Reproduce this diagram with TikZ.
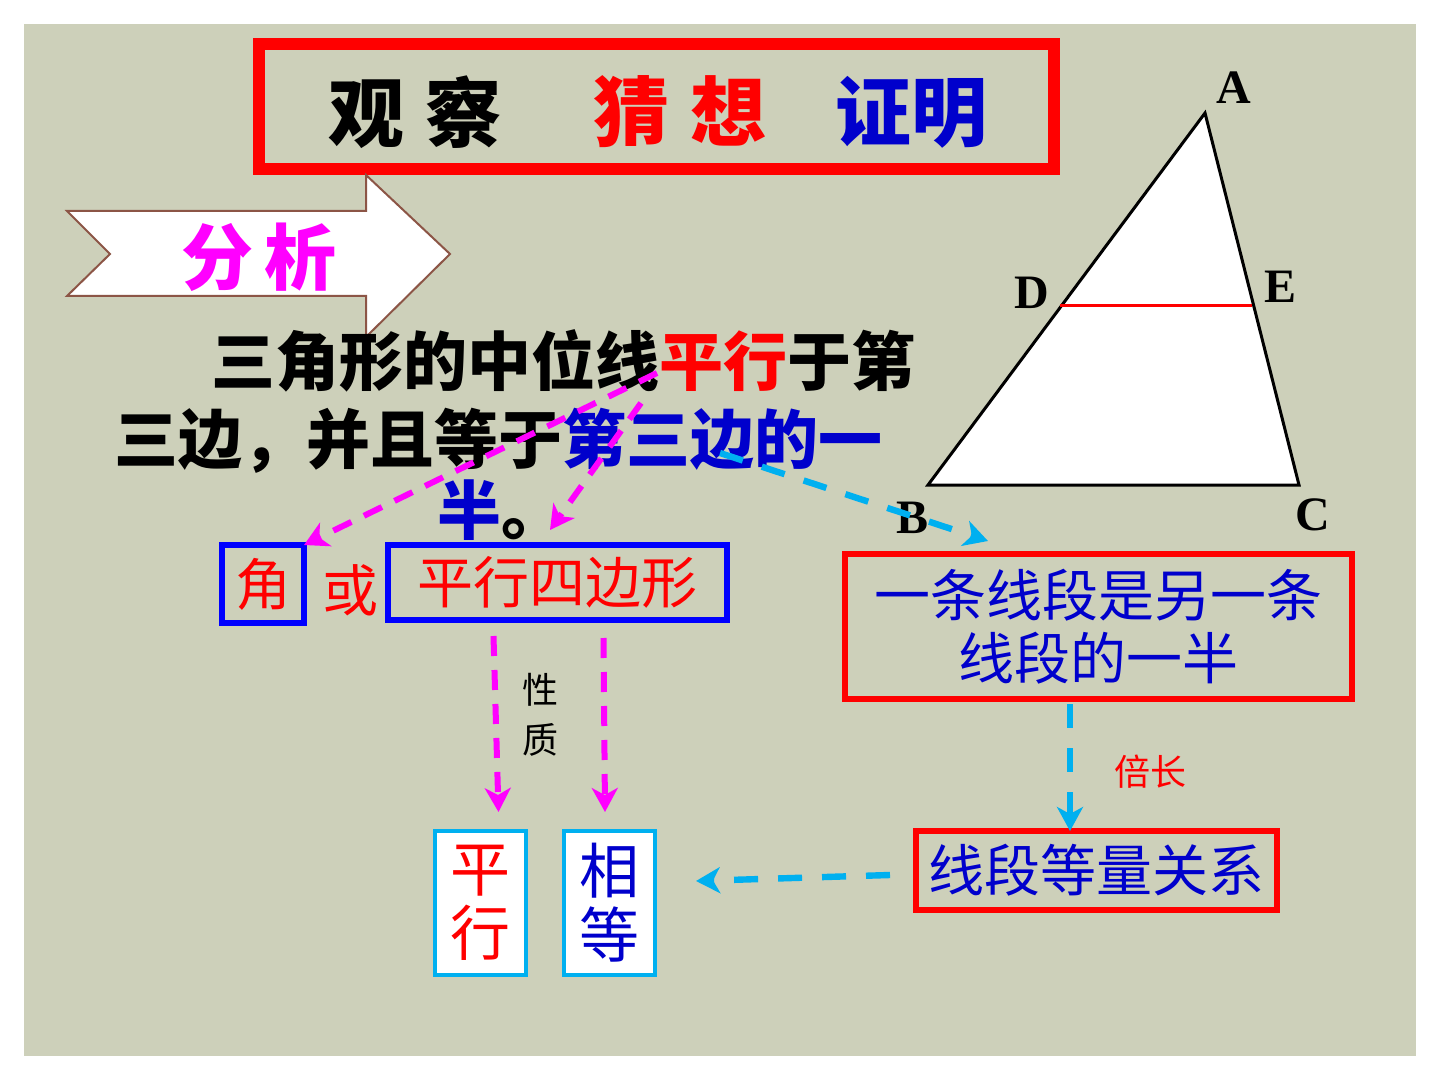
\documentclass[tikz,border=0pt]{standalone}
\usepackage{fontspec}
\setmainfont{Liberation Serif}
\newfontfamily\cjk{Noto Sans CJK SC}
\usetikzlibrary{arrows.meta,positioning,calc}
\definecolor{slidebg}{RGB}{205,208,186}
\definecolor{textblue}{RGB}{0,0,204}
\definecolor{lineblue}{RGB}{0,0,255}
\definecolor{skyblue}{RGB}{0,176,240}
\definecolor{pinkline}{RGB}{255,0,255}
\definecolor{arrowbrown}{RGB}{140,85,70}

\begin{document}
\begin{tikzpicture}[x=0.5pt,y=-0.5pt,inner sep=0pt,outer sep=0pt]
\tikzstyle{bluebox}=[draw=lineblue, line width=3pt, align=center, text=red, font=\cjk\fontsize{28pt}{32pt}\selectfont]
\tikzstyle{redbox}=[draw=red, line width=3pt, align=center, text=textblue, font=\cjk\fontsize{28pt}{31.5pt}\selectfont]
\tikzstyle{skybox}=[draw=skyblue, line width=2pt, fill=white, align=center, minimum width=45.5pt, minimum height=72pt, font=\cjk\fontsize{30pt}{32pt}\selectfont]
\tikzstyle{heavy}=[font=\cjk\bfseries\fontsize{32pt}{32pt}\selectfont, anchor=base west]
\tikzstyle{titleword}=[font=\cjk\bfseries\fontsize{38pt}{38pt}\selectfont]
\tikzstyle{magarrow}=[-{Stealth[length=12pt,width=13pt,inset=3.5pt]}, draw=pinkline, line width=3pt, dash pattern=on 10pt off 7pt]
\tikzstyle{skyarrow}=[-{Stealth[length=12pt,width=13pt,inset=3.5pt]}, draw=skyblue, line width=3.2pt, dash pattern=on 12pt off 10pt]
\tikzstyle{vertex}=[font=\bfseries\fontsize{24pt}{24pt}\selectfont]
% slide
\useasboundingbox (0,0) rectangle (1440,1080);
\fill[white] (0,0) rectangle (1440,1080);
\fill[slidebg] (24,24) rectangle (1416,1056);
% title
\node[draw=red, line width=6pt, minimum width=397.5pt, minimum height=62.5pt] (title) at (656.5,106.5) {};
\node[titleword] (observe) at (415,112) {观\hspace{11pt}察};
\node[titleword, text=red] (guess) at (680,112) {猜\hspace{11pt}想};
\node[titleword, text=textblue] (prove) at (911.5,112) {证明};
% analysis arrow
\draw[arrowbrown, line width=1pt, fill=white] (67,211) -- (366,211) -- (366,175) -- (450,254) -- (366,337) -- (366,296) -- (67,296) -- (110,254) -- cycle;
\node[font=\cjk\bfseries\fontsize{36pt}{36pt}\selectfont, text=pinkline] (analyse) at (259,257) {分\hspace{6pt}析};
% statement
\node[heavy] (l1a) at (211,386) {三角形的中位线};
\node[heavy, text=red, base right=0pt of l1a] (l1b) {平行};
\node[heavy, base right=0pt of l1b] (l1c) {于第};
\node[heavy] (l2a) at (114,464) {三边，并且等于};
\node[heavy, text=textblue, base right=0pt of l2a] (l2b) {第三边的一};
\node[heavy] (l3a) at (437,534) {\textcolor{textblue}{半}。};
% triangle
\coordinate (A) at (1205,113);
\coordinate (B) at (928,485);
\coordinate (C) at (1299,485);
\coordinate (D) at (1060,306);
\coordinate (E) at (1252,306);
\draw[line width=1.5pt, fill=white] (A) -- (B) -- (C) -- cycle;
\draw[red, line width=1.5pt] (D) -- (E);
\node[vertex] (la) at (1234,88) {A};
\node[vertex] (lb) at (912,518) {B};
\node[vertex] (lc) at (1313,515) {C};
\node[vertex] (ld) at (1032,293) {D};
\node[vertex] (le) at (1280,287) {E};
% boxes
\node[bluebox, minimum width=41pt, minimum height=39pt] (jiao) at (263,584) {角};
\node[font=\cjk\fontsize{28pt}{28pt}\selectfont, text=red] (huo) at (350,590) {或};
\node[bluebox, minimum width=169.5pt, minimum height=37.5pt] (pxbx) at (557.5,582.5) {平行四边形};
\node[font=\cjk\fontsize{18pt}{25pt}\selectfont, align=center] (prop) at (540,715) {性\\质};
\node[skybox, text=red] (pbox) at (480.5,903) {平\\行};
\node[skybox, text=textblue] (xbox) at (609.5,903) {相\\等};
\node[redbox, minimum width=253.5pt, minimum height=72.5pt] (half) at (1098.5,626.5) {一条线段是另一条\\线段的一半};
\node[font=\cjk\fontsize{18pt}{18pt}\selectfont, text=red] (double) at (1150,772) {倍长};
\node[redbox, minimum width=180.5pt, minimum height=39.5pt] (eq) at (1096.5,870.5) {线段等量关系};
% connectors
\coordinate (parallelfoot) at (657,373);
\coordinate (sidefoot) at (641,403);
\coordinate (halffoot) at (720,453);
\draw[magarrow] (parallelfoot) -- (jiao.north east);
\draw[magarrow] (sidefoot) -- ([xshift=-3.75pt,yshift=7.5pt]pxbx.north);
\draw[magarrow] ([xshift=-32pt,yshift=-8pt]pxbx.south) -- ([xshift=9pt,yshift=9.5pt]pbox.north);
\draw[magarrow] ([xshift=23pt,yshift=-9pt]pxbx.south) -- ([xshift=-2.25pt,yshift=9.5pt]xbox.north);
\draw[skyarrow] (halffoot) -- ([xshift=-55.25pt,yshift=6.5pt]half.north);
\draw[skyarrow] ([xshift=-14.25pt,yshift=-2.5pt]half.south) -- ([xshift=-13.25pt]eq.north);
\draw[skyarrow] ([xshift=-13pt,yshift=-2.25pt]eq.west) -- ([xshift=20.5pt,yshift=11pt]xbox.east);
\end{tikzpicture}
\end{document}
